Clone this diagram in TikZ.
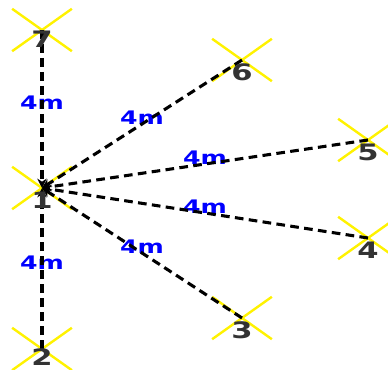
\documentclass[tikz,border=0pt]{standalone}
\usepackage{fontspec}
\newfontfamily\lblfont[FakeStretch=1.35]{DejaVu Sans}
\usetikzlibrary{shapes.misc, arrows.meta}
\definecolor{numgray}{RGB}{51, 51, 51}

\begin{document}
\begin{tikzpicture}[
  x=0.75pt, y=-0.75pt,
  spot/.style={
    cross out, draw=yellow, line width=1.8pt,
    minimum width=43pt, minimum height=30pt, inner sep=0pt
  },
  num/.style={font=\lblfont\bfseries\fontsize{17}{17}\selectfont, text=numgray, inner sep=0pt},
  link/.style={draw, line width=2.3pt, dash pattern=on 6.5pt off 4pt, -{Stealth[length=7pt,width=7pt]}},
  dist/.style={midway, behind path, yshift=4.5pt, inner sep=0pt,
    font=\lblfont\bfseries\fontsize{14}{14}\selectfont, text=blue}
]
\clip (0,0) rectangle (388,370);

\node[spot] (p1) at (42,188) {};
\node[spot] (p2) at (42,349) {};
\node[spot] (p3) at (242,318) {};
\node[spot] (p4) at (368,238) {};
\node[spot] (p5) at (368,140) {};
\node[spot] (p6) at (242,60) {};
\node[spot] (p7) at (42,30) {};

\draw[link] (p7.center) -- (p1.center) node[dist] {4m};
\draw[link] (p6.center) -- (p1.center) node[dist] {4m};
\draw[link] (p5.center) -- (p1.center) node[dist] {4m};
\draw[link] (p4.center) -- (p1.center) node[dist] {4m};
\draw[link] (p3.center) -- (p1.center) node[dist] {4m};
\draw[link] (p2.center) -- (p1.center) node[dist] {4m};

\node[num] (n1) at ([yshift=-9pt]p1.center) {1};
\node[num] (n2) at ([yshift=-6pt]p2.center) {2};
\node[num] (n3) at ([yshift=-9pt]p3.center) {3};
\node[num] (n4) at ([yshift=-9pt]p4.center) {4};
\node[num] (n5) at ([yshift=-9pt]p5.center) {5};
\node[num] (n6) at ([yshift=-9pt]p6.center) {6};
\node[num] (n7) at ([yshift=-7pt]p7.center) {7};
\end{tikzpicture}
\end{document}
